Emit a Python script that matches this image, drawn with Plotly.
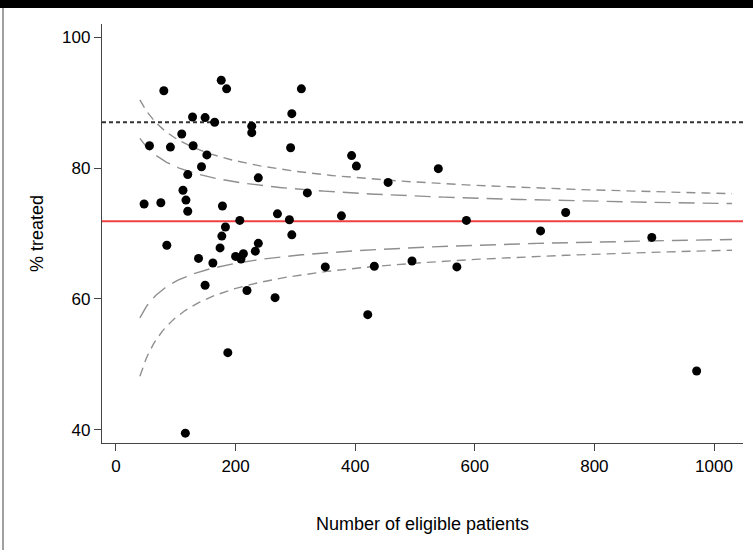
import numpy as np
import plotly.graph_objects as go

# ---- data ----
n_patients = [80, 176, 185, 128, 149, 165, 110, 56, 91, 129, 152, 143, 120, 112,
              47, 75, 117, 120, 178, 183, 310, 227, 227, 294, 292, 238, 320, 270,
              207, 290, 177, 294, 174, 238, 233, 200, 213, 209, 162, 149, 219, 266,
              350, 187, 85, 138, 116, 394, 402, 539, 455, 377, 586, 432, 495, 570,
              421, 752, 710, 896, 971]
pct_treated = [91.8, 93.4, 92.1, 87.8, 87.7, 87.0, 85.2, 83.4, 83.2, 83.4, 82.0, 80.2,
               79.0, 76.6, 74.5, 74.7, 75.1, 73.4, 74.2, 71.0, 92.1, 86.4, 85.4, 88.3,
               83.1, 78.5, 76.2, 73.0, 72.0, 72.1, 69.6, 69.8, 67.8, 68.5, 67.3, 66.5,
               66.9, 66.1, 65.5, 62.1, 61.3, 60.2, 64.9, 51.8, 68.2, 66.2, 39.5, 81.9,
               80.3, 79.9, 77.8, 72.7, 72.0, 65.0, 65.8, 64.9, 57.6, 73.2, 70.4, 69.4,
               49.0]

overall_pct = 71.87      # red line (overall mean)
target_pct = 87.0        # dotted line (target)
z_inner = 1.96           # 95% limits
z_outer = 3.09           # 99.8% limits
n_range = (40, 1030)     # extent of funnel limits

x_ticks = [0, 200, 400, 600, 800, 1000]
y_ticks = [40, 60, 80, 100]


def funnel(z, n):
    p0 = overall_pct / 100.0
    a0 = np.arcsin(np.sqrt(p0))
    se = 1.0 / (2.0 * np.sqrt(n))
    up = np.sin(np.clip(a0 + z * se, 0, np.pi / 2)) ** 2 * 100
    lo = np.sin(np.clip(a0 - z * se, 0, np.pi / 2)) ** 2 * 100
    return up, lo


n_grid = np.linspace(n_range[0], n_range[1], 400)
in_up, in_lo = funnel(z_inner, n_grid)
out_up, out_lo = funnel(z_outer, n_grid)

FONT = "Liberation Sans, Arial, sans-serif"
curve_col = "#8f8f8f"

fig = go.Figure()
for ys, dash in [(out_up, "9px,6px"), (out_lo, "9px,6px"),
                 (in_up, "16px,8px"), (in_lo, "16px,8px")]:
    fig.add_trace(go.Scatter(x=n_grid, y=ys, mode="lines",
                             line=dict(color=curve_col, width=1.4, dash=dash),
                             hoverinfo="skip", showlegend=False))

fig.add_trace(go.Scatter(x=n_patients, y=pct_treated, mode="markers",
                         marker=dict(color="black", size=9, line=dict(width=0)),
                         showlegend=False))

W, H = 753, 550
ml, mr, mt, mb = 102, 10, 24, 107
pw, ph = W - ml - mr, H - mt - mb


def px_x(px):
    return (px - ml) / pw


def px_y(py):
    return 1 - (py - mt) / ph


shapes = [
    dict(type="line", xref="paper", yref="y", x0=0, x1=1, y0=overall_pct, y1=overall_pct,
         line=dict(color="rgb(238,64,64)", width=2), layer="below"),
    dict(type="line", xref="paper", yref="y", x0=0, x1=1, y0=target_pct, y1=target_pct,
         line=dict(color="#333333", width=2, dash="4px,3px"), layer="below"),
    # top black band and left grey frame edge
    dict(type="rect", xref="paper", yref="paper", x0=px_x(0), x1=px_x(W),
         y0=px_y(8), y1=px_y(0), fillcolor="black", line=dict(width=0)),
    dict(type="line", xref="paper", yref="paper", x0=px_x(3), x1=px_x(3),
         y0=px_y(H), y1=px_y(8), line=dict(color="#a0a0a0", width=2)),
]

axis_common = dict(showgrid=False, zeroline=False, showline=True, linecolor="#444444",
                   linewidth=1.3, ticks="outside", ticklen=7, tickcolor="#444444",
                   tickwidth=1.3, tickfont=dict(family=FONT, size=17, color="black"))

fig.update_layout(
    width=W, height=H,
    margin=dict(l=ml, r=mr, t=mt, b=mb),
    plot_bgcolor="white", paper_bgcolor="white",
    shapes=shapes,
    xaxis=dict(range=[-23.4, 1048.5], tickvals=x_ticks,
               title=dict(text="Number of eligible patients", standoff=42,
                          font=dict(family=FONT, size=18, color="black")),
               **axis_common),
    yaxis=dict(range=[38.0, 102.0], tickvals=y_ticks,
               title=dict(text="% treated", standoff=13,
                          font=dict(family=FONT, size=18, color="black")),
               **axis_common),
)

fig.write_html("out.html", config={"displayModeBar": False},
               post_script="document.body.style.margin='0';document.body.style.overflow='hidden';")
